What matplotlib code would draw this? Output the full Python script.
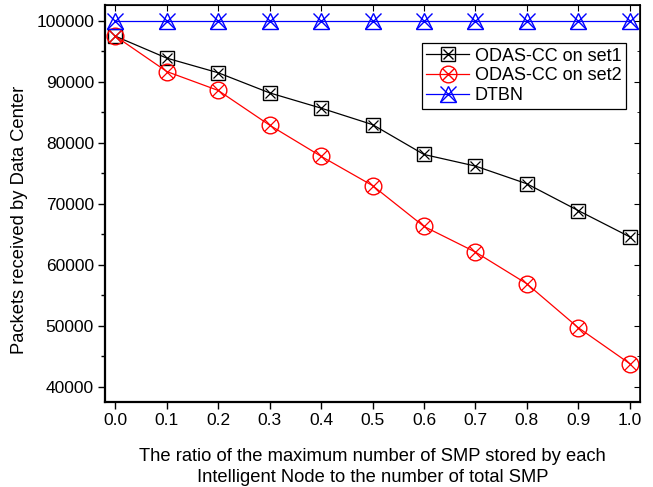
import matplotlib
matplotlib.use('Agg')
import matplotlib.pyplot as plt
from matplotlib.ticker import MultipleLocator

plt.rcParams['font.family'] = ['Liberation Sans', 'DejaVu Sans']

ratio = [0.0, 0.1, 0.2, 0.3, 0.4, 0.5, 0.6, 0.7, 0.8, 0.9, 1.0]
set1 = [97500, 93900, 91500, 88200, 85700, 83000, 78100, 76200, 73300, 68900, 64600]
set2 = [97500, 91700, 88600, 82900, 77800, 73000, 66300, 62100, 56900, 49700, 43800]
dtbn = [100000] * 11

fig = plt.figure(figsize=(6.53, 4.87), dpi=100)
ax = fig.add_axes([0.161, 0.1745, 0.819, 0.815])

# set1: square with x inside
ax.plot(ratio, set1, color='black', lw=0.9, marker='s', ms=9.5, mfc='none', mec='black', mew=1.0)
ax.plot(ratio, set1, ls='none', marker='x', ms=7.5, mec='black', mew=0.9)
# set2: circle with x inside
ax.plot(ratio, set2, color='red', lw=0.9, marker='o', ms=12, mfc='none', mec='red', mew=1.0)
ax.plot(ratio, set2, ls='none', marker='x', ms=8.5, mec='red', mew=0.9)
# DTBN: triangle with x
ax.plot(ratio, dtbn, color='blue', lw=0.9, marker='^', ms=12, mfc='none', mec='blue', mew=1.0)
ax.plot(ratio, dtbn, ls='none', marker='x', ms=12, mec='blue', mew=1.0)

# legend proxies with overlaid markers
h1 = (ax.plot([], [], color='black', lw=0.9, marker='s', ms=9.5, mfc='none', mec='black')[0],
      ax.plot([], [], ls='none', marker='x', ms=7.5, mec='black')[0])
h2 = (ax.plot([], [], color='red', lw=0.9, marker='o', ms=12, mfc='none', mec='red')[0],
      ax.plot([], [], ls='none', marker='x', ms=8.5, mec='red')[0])
h3 = (ax.plot([], [], color='blue', lw=0.9, marker='^', ms=12, mfc='none', mec='blue')[0],
      ax.plot([], [], ls='none', marker='x', ms=12, mec='blue')[0])
leg = ax.legend([h1, h2, h3], ['ODAS-CC on set1', 'ODAS-CC on set2', 'DTBN'],
                loc='upper right', bbox_to_anchor=(0.974, 0.904), fontsize=13,
                fancybox=False, edgecolor='black', framealpha=1, handlelength=2.4,
                borderpad=0.25, labelspacing=0.15, handletextpad=0.3, borderaxespad=0)
leg.get_frame().set_linewidth(0.9)

ax.set_xlim(-0.02, 1.02)
ax.set_ylim(37500, 102600)
ax.set_xticks(ratio)
ax.set_xticklabels([f'{v:.1f}' for v in ratio])
ax.yaxis.set_major_locator(MultipleLocator(10000))
ax.yaxis.set_minor_locator(MultipleLocator(5000))

ax.tick_params(axis='both', which='both', direction='out', labelsize=12.5,
               top=False, right=False)
ax.tick_params(which='major', length=5, width=1, pad=3)
ax.tick_params(which='minor', length=3, width=1)

# inward ticks on top and right
sec_x = ax.secondary_xaxis('top')
sec_x.set_xticks(ratio)
sec_x.tick_params(direction='in', length=4, labeltop=False)
sec_y = ax.secondary_yaxis('right')
sec_y.yaxis.set_major_locator(MultipleLocator(10000))
sec_y.yaxis.set_minor_locator(MultipleLocator(5000))
sec_y.tick_params(which='both', direction='in', labelright=False)
sec_y.tick_params(which='major', length=4)
sec_y.tick_params(which='minor', length=2.5)

for s in ax.spines.values():
    s.set_linewidth(1.2)
ax.spines['left'].set_linewidth(1.6)
ax.spines['bottom'].set_linewidth(1.6)

ax.set_xlabel('The ratio of the maximum number of SMP stored by each\nIntelligent Node to the number of total SMP',
              fontsize=13.2, labelpad=14, linespacing=1.35)
ax.set_ylabel('Packets received by Data Center', fontsize=13.2)
ax.yaxis.set_label_coords(-0.144, 0.458)

fig.savefig('out.png', dpi=100)
